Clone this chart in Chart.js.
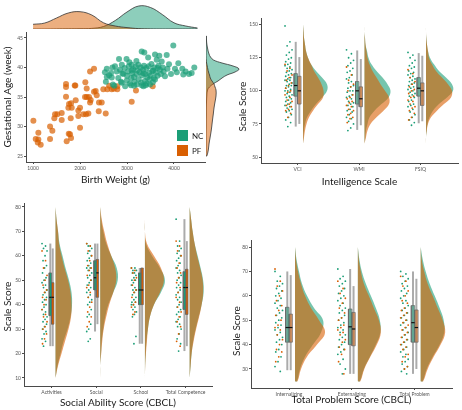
<!DOCTYPE html>
<html lang="en">
<head>
<meta charset="UTF-8">
<title>Birth outcomes and CBCL / intelligence scores</title>
<script src="https://cdn.jsdelivr.net/npm/chart.js"></script>
<style>
  body { margin: 0; background: #fff; }
  #wrap { position: relative; width: 462px; height: 410px; }
  #wrap canvas { position: absolute; }
</style>
</head>
<body>
<div id="wrap">
  <canvas id="topDens" width="212" height="30" style="left:0px;top:0px"></canvas>
  <canvas id="scatter" width="212" height="168" style="left:0px;top:28px"></canvas>
  <canvas id="rightDens" width="42" height="168" style="left:204px;top:28px"></canvas>
  <canvas id="iqChart" width="230" height="195" style="left:232px;top:0px"></canvas>
  <canvas id="saChart" width="230" height="213" style="left:0px;top:197px"></canvas>
  <canvas id="pbChart" width="234" height="213" style="left:228px;top:197px"></canvas>
</div>
<script>
// ---- panel 1: birth weight (g) vs gestational age (week)
const ncBirth = [[2530,39.2],[2570,38.4],[2570,39.8],[2550,37.6],[2620,38.7],[2660,39.05],[2675,38.3],[2690,40.0],[2700,37.1],[2745,40.2],
  [2780,39.3],[2815,38.2],[2830,41.45],[2850,39.6],[2870,37.6],[2890,37.4],[2890,40.45],[2920,38.9],[2950,39.9],[2990,41.45],
  [2995,37.8],[3000,38.6],[3020,39.3],[3040,40.2],[3060,37.3],[3085,37.0],[3090,38.2],[3100,40.45],[3110,39.0],[3130,39.7],
  [3150,38.4],[3160,37.6],[3180,40.1],[3200,38.9],[3206,37.1],[3220,39.5],[3240,40.45],[3250,38.0],[3270,39.2],[3290,40.0],
  [3300,37.4],[3313,42.7],[3313,37.0],[3320,38.7],[3340,39.6],[3360,40.3],[3368,42.55],[3380,37.7],[3390,38.9],[3397,37.0],
  [3410,39.9],[3430,38.3],[3450,41.7],[3460,40.2],[3470,39.1],[3489,37.1],[3500,38.6],[3520,40.6],[3540,39.4],[3550,37.5],
  [3570,38.2],[3580,40.0],[3596,42.2],[3596,37.95],[3610,39.1],[3632,41.3],[3650,38.6],[3670,40.3],[3687,42.0],[3700,39.6],
  [3720,38.9],[3738,41.0],[3760,40.0],[3780,39.3],[3808,38.5],[3845,42.1],[3860,39.8],[3894,40.55],[3936,38.9],[3985,43.7],
  [4021,39.8],[4060,39.2],[4092,40.7],[4177,39.8],[4198,38.8],[4248,39.3],[4319,38.9],[4376,39.05],[4432,40.0],[2730,36.9],
  [2960,36.8],[3150,36.9],[3350,36.8],[3420,37.3],[3050,40.9],[3200,41.1],[3560,39.5],[3650,39.9],[3350,39.0],[3100,39.5],
  [2900,39.0],[3480,38.0]];
const pfBirth = [[1007,31.0],[1113,28.95],[1057,27.9],[1113,27.8],[1163,26.9],[1362,30.0],[1411,29.3],[1362,27.9],[1468,32.1],[1517,32.1],
  [1610,32.3],[1453,31.4],[1610,31.1],[1702,37.2],[1702,36.7],[1702,35.05],[1802,31.4],[1760,28.8],[1809,28.05],[1716,27.5],
  [1900,36.95],[1908,34.45],[1766,33.8],[1809,33.95],[1752,33.2],[1823,33.2],[1964,32.7],[2000,33.2],[2000,29.8],[1964,31.8],
  [2070,32.1],[2128,32.1],[2177,32.2],[2106,35.0],[2142,35.0],[2191,35.0],[2213,34.05],[2227,34.5],[2142,36.45],[2213,39.3],
  [2298,39.8],[2355,35.3],[2404,34.05],[2461,34.05],[2398,32.6],[2547,32.2],[2298,35.9],[2496,36.3],[2581,36.3],[2674,36.3],
  [2794,36.8],[2794,36.3],[2113,37.5],[1887,36.95],[2333,36.0],[3191,36.1],[3100,34.2],[3547,36.8],[2620,36.9],[2720,36.4],
  [1787,28.7],[1100,27.3]];
const bwTicks = [1000, 2000, 3000, 4000];
const gaTicks = [25, 30, 35, 40, 45];

// marginal densities (heights)
const bwLevels = [1000,1250,1500,1750,2000,2250,2500,2750,3000,3250,3500,3750,4000,4250,4500];
const bwDensNC = [0,0,0.1,0.2,0.3,0.6,2.5,8.5,17,23,21.5,14.5,6.2,3,1];
const bwDensPF = [4.7,6,11,16,17.3,14,6.2,3,1.4,0.4,0.1,0,0,0,0];
const gaLevels = [45,44,43,42,41.5,41,40.5,40,39.5,39,38.5,38,37.5,37,36.5,36,35,34,33,32,31,30,29,28,27,26,25];
const gaDensNC = [0.3,0.6,1.5,3,4.5,7.5,16,27,33,29,21,16,12,7,3.5,1.5,0.8,0.5,0.3,0.3,0.2,0.2,0.1,0.1,0.1,0.1,0];
const gaDensPF = [0,0,0,0,0,0.2,0.6,1.2,1.8,2.5,3.5,4.3,6,8,9,10,10,9,8,7.3,6.5,5.8,5,4,3,2.3,0.8];

// ---- panel 2: intelligence scale
const iqCats = ['VCI', 'WMI', 'FSIQ'];
const iqTicks = [50, 75, 100, 125, 150];
// [lower whisker, q1, median, q3, upper whisker]
const iqBoxNC = [[73,96,104,113,137],[70.5,90,100,107,130.5],[75.5,96,102,110,128.5]];
const iqBoxPF = [[75,90,100,111,125.5],[74,88,94,103,124],[77,89,100,106,126.5]];
const iqPtsNC = [
  [149,137,134,131,129,127,125,124,122,121,120,119,118,117,116,115,114,113,112,111,110,109,108,108,107,106,105,104,104,103,102,101,100,100,99,98,97,96,95,94,93,92,91,90,89,88,87,86,85,84,82,80,78,76,73],
  [131,128,125,123,121,119,117,115,114,112,110,109,107,106,104,103,102,100,100,99,97,96,95,94,92,91,90,89,88,86,85,84,82,80,79,77,75,72,70],
  [129,127,125,123,121,119,118,117,115,114,113,112,111,110,109,108,107,106,105,104,103,102,101,100,99,98,97,96,95,93,92,90,89,88,86,84,82,80,78,76,74]];
const iqPtsPF = [
  [120,117,115,112,110,108,106,104,102,100,99,97,95,93,92,90,89,88,86,85,83,80],
  [118,112,108,105,103,100,97,95,94,92,91,89,88,86,85,83,82,80,79,76],
  [116,113,110,107,105,103,101,100,98,96,95,93,92,90,88,87,85,83,80,78]];
const iqLevels = [150,145,140,135,130,125,120,115,110,105,100,95,90,85,80,75,70,65,60];
const iqDensNC = [
  [0,0.5,1,2,3,5,8,13,19,24,24,19,13,8,4,2,1,0.5,0],
  [0,0,0.5,1,2.5,4,7,12,18,23,26,24,17,10,5,3,1.5,0.8,0],
  [0,0,0.3,1,2,4,8,13,20,26,27,21,13,7,3.5,1.5,0.7,0,0]];
const iqDensPF = [
  [0,0.5,1,2,3,5,8,11,15,18.5,20.5,20,15,10,6,3.5,2,1,0],
  [0,0,0.5,1,2,3,5,8,12,16,20.5,24.5,24.5,19,12,6,3,1.5,0],
  [0,0,0.3,1,2,3,6,10,16,22,26,25,18,11,5,2,0.8,0,0]];

// ---- panel 3: social ability (CBCL)
const saCats = ['Activities', 'Social', 'School', 'Total Competence'];
const saTicks = [10, 20, 30, 40, 50, 60, 70, 80];
const saBoxNC = [[23,35.5,43,53,65],[29,46,51,58,65],[24,40,46,53,55],[21,38,47,53.5,75]];
const saBoxPF = [[23,32,43,49,63],[32,43,53,58.5,65],[24,40,46,55,55],[23,36,47,54.5,66]];
const saPtsNC = [
  [65,64,63,62,60,58,56,55,53,51,50,49,48,47,46,45,44,43,42,41,40,39,38,37,36,35,34,33,32,31,30,29,28,26,25,23],
  [65,64,64,63,62,61,60,59,58,57,56,55,55,54,53,52,51,50,49,48,47,46,45,44,43,42,41,40,38,36,35,32,30,29,26,25],
  [55,55,54,54,53,53,52,51,50,50,49,48,47,46,46,45,44,43,42,41,41,40,40,39,38,37,36,35,27,24],
  [75,66,64,63,62,61,60,59,58,57,56,55,54,53,52,51,50,49,48,47,46,45,44,43,42,41,40,39,38,37,36,35,34,33,32,31,30,28,26,24,21]];
const saPtsPF = [
  [62,58,55,52,50,48,46,45,43,42,40,38,36,35,33,31,30,28,26,24],
  [65,64,62,60,58,56,55,54,52,50,48,47,45,43,41,39,37,35,33,31],
  [55,54,53,51,50,48,46,45,43,41,40,39,37,36],
  [66,64,62,60,57,55,53,51,49,47,45,43,41,39,37,35,33,31,28,25,23]];
const saLevels = [80,75,70,65,60,55,50,45,40,35,30,25,20,15,10];
const saDensNC = [
  [0,1,2.5,4,7,10,13.5,16,16.5,15,12,8,5,2,0],
  [0,1,3,6,11,16.5,17.5,13,8,5,3,1.5,0.8,0,0],
  [0,0,0,1,7,15,20,16,9,5,3,1.5,0.8,0.2,0],
  [0,1.5,3,5,8,11,13.5,14,12,9,6,3.5,2,1,0]];
const saDensPF = [
  [0,1,2.5,3.5,6,9,12.5,15,16,15.5,13,9.5,6,2.5,0],
  [0,1.5,4,7,11,15,16,13,9,6,3.5,2,1,0,0],
  [0,0,0,2,9,16,19,15,9,5,3,2,1,0.3,0],
  [0,1.5,3,5,7.5,10.5,13,13.5,12,9.5,6.5,4,2,1,0]];

// ---- panel 4: total problem (CBCL)
const pbCats = ['Internalizing', 'Externalizing', 'Total Problem'];
const pbTicks = [30, 40, 50, 60, 70, 80];
const pbBoxNC = [[29.5,41,47,55.3,70],[28,40,47.3,54.6,71],[28,41,49,56,70]];
const pbBoxPF = [[29.5,41,47,52.5,68.5],[28,39.5,46.4,53.2,64],[30,41,47,54.2,67]];
const pbPtsNC = [
  [70,68,66,65,64,63,62,61,60,59,58,57,56,55,54,53,52,51,50,49,48,47,46,45,44,43,42,41,40,38,37,35,33,31,29],
  [71,68,67,66,65,64,63,62,61,60,59,58,57,56,55,54,53,52,51,50,49,48,47,46,45,44,43,42,41,40,39,38,37,36,34,32,30,28],
  [70,69,68,67,66,65,64,63,62,61,60,59,58,57,56,55,54,53,52,51,50,49,48,47,46,45,44,43,42,41,40,39,38,37,36,35,34,33,32,31,30,29,28]];
const pbPtsPF = [
  [71,66,64,62,60,58,56,54,52,50,48,47,46,44,42,40,38,37,35,33],
  [66,63,61,59,57,55,53,51,50,48,47,46,45,44,42,41,39,38,36,33,28],
  [68,66,64,62,60,58,57,55,54,53,52,51,50,49,48,47,46,45,44,43,42,41,40,39,38,36,35,33,31,30]];
const pbLevels = [80,75,70,65,60,55,50,45,40,35,30,25];
const pbDensNC = [
  [0,1.5,4,7,12,19,28,26,18,10,5,2],
  [0,1.5,4,8,13,18,22,22.5,18,12,6,2],
  [0,2,5,9,14,19,23,23.5,19,12,6,2]];
const pbDensPF = [
  [0,1,3,6,10,16,24,30,22,12,6,2.5],
  [0,1,3,6,11,16,21,23,19,12.5,6.5,2.5],
  [0,1,3.5,7,12,17,22,24.5,20,13,7,2.5]];

const FONT = 'Lato, "Open Sans", sans-serif';
const NC_COL = '#1b9e77', PF_COL = '#d95f02';
const AXIS_COL = '#4a4a4a';

Chart.defaults.font.family = FONT;
Chart.defaults.animation = false;
Chart.defaults.responsive = false;
Chart.defaults.plugins.legend.display = false;
Chart.defaults.plugins.tooltip.enabled = false;

const tickFont = {family: FONT, size: 5};
const titleFont = {family: FONT, size: 10};

function numScale(min, max, tickVals, size, title, titlePad, isX) {
  return {
    type: 'linear', min: min, max: max,
    border: {display: true, color: AXIS_COL, width: 1},
    grid: {display: true, drawOnChartArea: false, drawTicks: true, tickLength: 2, color: AXIS_COL},
    afterBuildTicks: s => { s.ticks = tickVals.map(v => ({value: v})); },
    ticks: {autoSkip: false, font: tickFont, color: '#555', padding: 1, maxRotation: 0, callback: v => String(v)},
    title: {display: !!title, text: title, font: titleFont, color: '#1a1a1a',
      padding: isX ? {top: 0, bottom: titlePad} : {top: titlePad, bottom: 0}},
    afterFit: isX ? (s => { s.height = size; }) : (s => { s.width = size; })
  };
}

function catScale(cats, min, max, size, title, titlePad) {
  const sc = numScale(min, max, cats.map((c, i) => i + 1), size, title, titlePad, true);
  sc.ticks.callback = v => cats[v - 1];
  return sc;
}

// rotated y title, centred a little below the middle of the axis as in the figure
const yTitle = {
  id: 'yTitle',
  afterDraw(chart, args, opts) {
    const {ctx, chartArea} = chart;
    ctx.save();
    ctx.translate(opts.x, (chartArea.top + chartArea.bottom) / 2 + opts.dy);
    ctx.rotate(-Math.PI / 2);
    ctx.font = '10px ' + FONT;
    ctx.fillStyle = '#1a1a1a';
    ctx.textAlign = 'center';
    ctx.textBaseline = 'middle';
    ctx.fillText(opts.text, 0, 0);
    ctx.restore();
  }
};

// half violin + box + jittered points for each category and group
function rainDatasets(p) {
  const ds = [];
  const u = v => v / p.pxPerUnit;
  const groups = [
    {box: p.boxNC, pts: p.ptsNC, dens: p.densNC, col: NC_COL, fill: p.boxFill[0], dfill: 'rgba(27,158,119,0.6)', side: -1, o: 1},
    {box: p.boxPF, pts: p.ptsPF, dens: p.densPF, col: PF_COL, fill: p.boxFill[1], dfill: 'rgba(217,95,2,0.6)', side: 1, o: 0}
  ];
  const last = p.levels.length - 1;
  p.cats.forEach((c, i) => {
    const pos = i + 1;
    groups.forEach(g => {
      const [lo, q1, med, q3, hi] = g.box[i];
      const xc = pos + u(g.side * p.boxOff);
      const x0 = xc - u(p.boxHalf), x1 = xc + u(p.boxHalf);
      const base = pos + u(p.densBase);
      const curve = p.levels.map((l, k) => ({x: base + u(g.dens[i][k]), y: l}));
      curve.unshift({x: base, y: p.levels[0]});
      curve.push({x: base, y: p.levels[last]});
      ds.push({data: curve, showLine: true, fill: 'shape', tension: 0.4, pointRadius: 0,
        borderWidth: 0, backgroundColor: g.dfill, order: 10 + g.o});
      ds.push({data: [{x: xc, y: lo}, {x: xc, y: hi}], showLine: true, borderColor: '#ababab',
        borderWidth: 2, pointRadius: 0, order: 8});
      ds.push({data: [{x: x0, y: q1}, {x: x1, y: q1}, {x: x1, y: q3}, {x: x0, y: q3}, {x: x0, y: q1}],
        showLine: true, fill: 'shape', tension: 0, backgroundColor: g.fill, borderColor: '#666',
        borderWidth: 0.7, pointRadius: 0, order: 6});
      ds.push({data: [{x: x0, y: med}, {x: x1, y: med}], showLine: true, borderColor: '#111',
        borderWidth: 1.2, pointRadius: 0, order: 5});
      ds.push({data: g.pts[i].map((v, k) => ({x: pos + u(p.jitter[0] + (p.jitter[1] - p.jitter[0]) * ((k * 7) % 11) / 10), y: v})),
        pointRadius: 0.9, pointBackgroundColor: g.col, pointBorderWidth: 0, order: 2 + g.o});
    });
  });
  return ds;
}

// legend boxes in the lower right corner of the scatter
const cornerLegend = {
  id: 'cornerLegend',
  afterDatasetsDraw(chart) {
    const {ctx, chartArea} = chart;
    ctx.save();
    chart.data.datasets.forEach((ds, i) => {
      const x = chartArea.right - 28, y = chartArea.bottom - 32 + i * 15;
      ctx.fillStyle = ds.legendColor;
      ctx.fillRect(x, y, 11, 11);
      ctx.fillStyle = '#222';
      ctx.font = '8px ' + FONT;
      ctx.textBaseline = 'middle';
      ctx.fillText(ds.label, x + 15, y + 6);
    });
    ctx.restore();
  }
};

new Chart(document.getElementById('scatter'), {
  type: 'scatter',
  data: {datasets: [
    {label: 'NC', legendColor: NC_COL, data: ncBirth.map(([x, y]) => ({x, y})), pointRadius: 3,
      pointBackgroundColor: 'rgba(27,158,119,0.7)', pointBorderWidth: 0},
    {label: 'PF', legendColor: PF_COL, data: pfBirth.map(([x, y]) => ({x, y})), pointRadius: 3,
      pointBackgroundColor: 'rgba(217,95,2,0.7)', pointBorderWidth: 0}
  ]},
  options: {
    layout: {padding: {top: 2, right: 7, left: 0, bottom: 0}},
    scales: {
      x: numScale(850, 4660, bwTicks, 34, 'Birth Weight (g)', 10, true),
      y: numScale(24, 46, gaTicks, 26, 'Gestational Age (week)', 2, false)
    }
  },
  plugins: [cornerLegend]
});

new Chart(document.getElementById('topDens'), {
  type: 'scatter',
  data: {datasets: [
    {data: bwLevels.map((x, k) => ({x, y: bwDensNC[k]})), showLine: true, fill: 'origin', tension: 0.4,
      backgroundColor: 'rgba(27,158,119,0.5)', borderColor: '#333', borderWidth: 0.8, pointRadius: 0, order: 2},
    {data: bwLevels.map((x, k) => ({x, y: bwDensPF[k]})), showLine: true, fill: 'origin', tension: 0.4,
      backgroundColor: 'rgba(217,95,2,0.5)', borderColor: '#333', borderWidth: 0.8, pointRadius: 0, order: 1}
  ]},
  options: {
    layout: {padding: {left: 26, right: 7, top: 3, bottom: 1}},
    scales: {x: {display: false, min: 850, max: 4660}, y: {display: false, min: 0, max: 26}}
  }
});

function sideCurve(dens) {
  const pts = gaLevels.map((l, k) => ({x: dens[k], y: l}));
  pts.unshift({x: 0, y: gaLevels[0]});
  pts.push({x: 0, y: gaLevels[gaLevels.length - 1]});
  return pts;
}

new Chart(document.getElementById('rightDens'), {
  type: 'scatter',
  data: {datasets: [
    {data: sideCurve(gaDensNC), showLine: true, fill: 'shape', tension: 0.4,
      backgroundColor: 'rgba(27,158,119,0.5)', borderColor: '#333', borderWidth: 0.8, pointRadius: 0, order: 2},
    {data: sideCurve(gaDensPF), showLine: true, fill: 'shape', tension: 0.4,
      backgroundColor: 'rgba(217,95,2,0.5)', borderColor: '#333', borderWidth: 0.8, pointRadius: 0, order: 1}
  ]},
  options: {
    layout: {padding: {left: 2, right: 4, top: 2, bottom: 34}},
    scales: {x: {display: false, min: 0, max: 36}, y: {display: false, min: 24, max: 46}}
  }
});

new Chart(document.getElementById('iqChart'), {
  type: 'scatter',
  data: {datasets: rainDatasets({
    cats: iqCats, boxNC: iqBoxNC, boxPF: iqBoxPF, ptsNC: iqPtsNC, ptsPF: iqPtsPF,
    levels: iqLevels, densNC: iqDensNC, densPF: iqDensPF,
    pxPerUnit: 61.5, boxOff: 1.8, boxHalf: 1.7, jitter: [-12.5, -5.5], densBase: 5.5,
    boxFill: ['rgba(27,158,119,0.5)', 'rgba(217,95,2,0.5)']
  })},
  options: {
    layout: {padding: {top: 18, right: 4, left: 0, bottom: 0}},
    plugins: {yTitle: {text: 'Scale Score', x: 11, dy: 16}},
    scales: {
      x: catScale(iqCats, 0.406, 3.61, 32, 'Intelligence Scale', 7),
      y: numScale(45.5, 155, iqTicks, 29, '', 0, false)
    }
  },
  plugins: [yTitle]
});

new Chart(document.getElementById('saChart'), {
  type: 'scatter',
  data: {datasets: rainDatasets({
    cats: saCats, boxNC: saBoxNC, boxPF: saBoxPF, ptsNC: saPtsNC, ptsPF: saPtsPF,
    levels: saLevels, densNC: saDensNC, densPF: saDensPF,
    pxPerUnit: 44.7, boxOff: 1.2, boxHalf: 1.2, jitter: [-9.5, -4.5], densBase: 4,
    boxFill: [NC_COL, PF_COL]
  })},
  options: {
    layout: {padding: {top: 6, right: 18, left: 0, bottom: 0}},
    plugins: {yTitle: {text: 'Scale Score', x: 8, dy: 12}},
    scales: {
      x: catScale(saCats, 0.384, 4.59, 24, 'Social Ability Score (CBCL)', 1),
      y: numScale(6.7, 81.6, saTicks, 24, '', 0, false)
    }
  },
  plugins: [yTitle]
});

new Chart(document.getElementById('pbChart'), {
  type: 'scatter',
  data: {datasets: rainDatasets({
    cats: pbCats, boxNC: pbBoxNC, boxPF: pbBoxPF, ptsNC: pbPtsNC, ptsPF: pbPtsPF,
    levels: pbLevels, densNC: pbDensNC, densPF: pbDensPF,
    pxPerUnit: 62.8, boxOff: 1.7, boxHalf: 1.7, jitter: [-14, -6.5], densBase: 6,
    boxFill: ['rgba(27,158,119,0.5)', 'rgba(217,95,2,0.5)']
  })},
  options: {
    layout: {padding: {top: 43, right: 10, left: 0, bottom: 0}},
    plugins: {yTitle: {text: 'Scale Score', x: 8.7, dy: 17}},
    scales: {
      x: catScale(pbCats, 0.395, 3.594, 22, 'Total Problem Score (CBCL)', 4),
      y: numScale(22.2, 82.9, pbTicks, 23, '', 0, false)
    }
  },
  plugins: [yTitle]
});
</script>
</body>
</html>
